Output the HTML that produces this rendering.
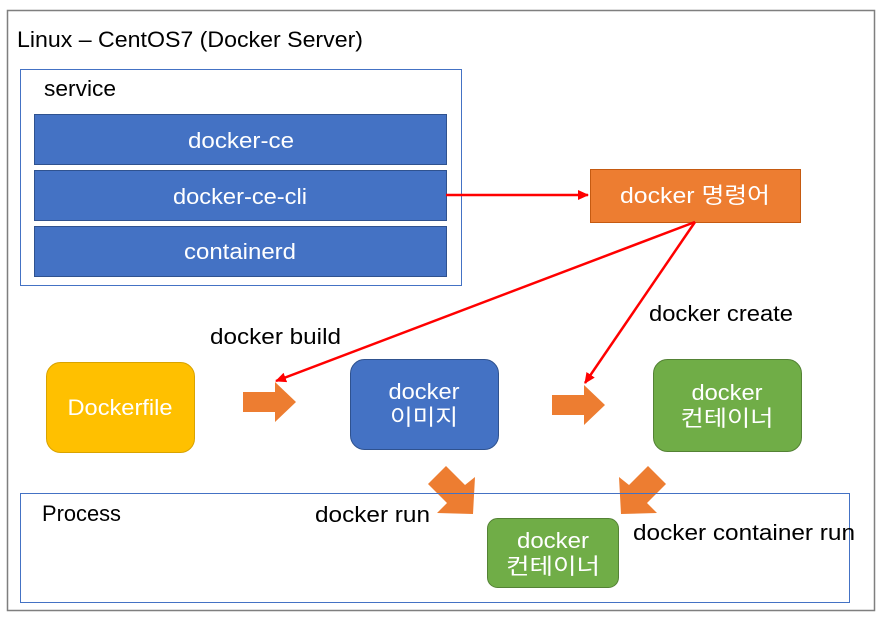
<!DOCTYPE html>
<html><head><meta charset="utf-8"><style>body{margin:0;background:#fff}svg{display:block}text{font-family:"Liberation Sans","Noto Sans CJK KR",sans-serif}</style></head><body>
<svg width="882" height="619" viewBox="0 0 882 619" xmlns="http://www.w3.org/2000/svg">
<rect x="7.5" y="10.5" width="867" height="600" fill="#fff" stroke="#7f7f7f" stroke-width="1.5"/>
<text x="17" y="47" font-size="22" fill="#000" textLength="346" lengthAdjust="spacingAndGlyphs">Linux – CentOS7 (Docker Server)</text>
<rect x="20.5" y="69.5" width="441" height="216" fill="#fff" stroke="#4472c4"/>
<text x="44" y="96" font-size="22" textLength="72" lengthAdjust="spacingAndGlyphs">service</text>
<g fill="#4472c4" stroke="#2f528f">
<rect x="34.5" y="114.5" width="412" height="50"/>
<rect x="34.5" y="170.5" width="412" height="50"/>
<rect x="34.5" y="226.5" width="412" height="50"/>
</g>
<g fill="#fff" font-size="22" text-anchor="middle" lengthAdjust="spacingAndGlyphs">
<text x="241" y="148" textLength="106" lengthAdjust="spacingAndGlyphs">docker-ce</text>
<text x="240" y="204" textLength="134" lengthAdjust="spacingAndGlyphs">docker-ce-cli</text>
<text x="240" y="259" textLength="112" lengthAdjust="spacingAndGlyphs">containerd</text>
</g>
<rect x="590.5" y="169.5" width="210" height="53" fill="#ed7d31" stroke="#c55a11"/>
<text x="695" y="203" font-size="22" fill="#fff" text-anchor="middle" textLength="150" lengthAdjust="spacingAndGlyphs">docker 명령어</text>
<defs><marker id="a" markerWidth="11" markerHeight="10" refX="10" refY="5" orient="auto" markerUnits="userSpaceOnUse"><path d="M0,0 L11,5 L0,10 z" fill="#f00"/></marker></defs>
<g stroke="#f00" stroke-width="2.5" fill="none">
<line x1="446" y1="195" x2="588" y2="195" marker-end="url(#a)"/>
<line x1="695" y1="222" x2="276" y2="381" marker-end="url(#a)"/>
<line x1="695" y1="222" x2="585" y2="383" marker-end="url(#a)"/>
</g>
<text x="210" y="344" font-size="22" textLength="131" lengthAdjust="spacingAndGlyphs">docker build</text>
<text x="649" y="321" font-size="22" textLength="144" lengthAdjust="spacingAndGlyphs">docker create</text>
<rect x="46.5" y="362.5" width="148" height="90" rx="14" fill="#ffc000" stroke="#d9a300"/>
<text x="120" y="415" font-size="22" fill="#fff" text-anchor="middle" textLength="105" lengthAdjust="spacingAndGlyphs">Dockerfile</text>
<rect x="350.5" y="359.5" width="148" height="90" rx="14" fill="#4472c4" stroke="#2f528f"/>
<text x="424" y="399" font-size="22" fill="#fff" text-anchor="middle" textLength="71" lengthAdjust="spacingAndGlyphs">docker</text>
<text x="424" y="425" font-size="22" fill="#fff" text-anchor="middle" textLength="68" lengthAdjust="spacingAndGlyphs">이미지</text>
<rect x="653.5" y="359.5" width="148" height="92" rx="14" fill="#70ad47" stroke="#548235"/>
<text x="727" y="400" font-size="22" fill="#fff" text-anchor="middle" textLength="71" lengthAdjust="spacingAndGlyphs">docker</text>
<text x="727" y="426" font-size="22" fill="#fff" text-anchor="middle" textLength="93" lengthAdjust="spacingAndGlyphs">컨테이너</text>
<g fill="#ed7d31">
<polygon points="243,392 275,392 275,382 296,402 275,422 275,412 243,412"/>
<polygon points="552,395 584,395 584,385 605,405 584,425 584,415 552,415"/>
<polygon points="428,484 446,466 465,485 475,477 473,514 437,513 447,503"/>
<polygon points="666,484 648,466 629,485 619,477 621,514 657,513 647,503"/>
</g>
<rect x="20.5" y="493.5" width="829" height="109" fill="none" stroke="#4472c4"/>
<text x="42" y="521" font-size="22" textLength="79" lengthAdjust="spacingAndGlyphs">Process</text>
<text x="315" y="522" font-size="22" textLength="115" lengthAdjust="spacingAndGlyphs">docker run</text>
<text x="633" y="540" font-size="22" textLength="222" lengthAdjust="spacingAndGlyphs">docker container run</text>
<rect x="487.5" y="518.5" width="131" height="69" rx="10" fill="#70ad47" stroke="#548235"/>
<text x="553" y="548" font-size="22" fill="#fff" text-anchor="middle" textLength="72" lengthAdjust="spacingAndGlyphs">docker</text>
<text x="553" y="574" font-size="22" fill="#fff" text-anchor="middle" textLength="94" lengthAdjust="spacingAndGlyphs">컨테이너</text>
</svg>
</body></html>
